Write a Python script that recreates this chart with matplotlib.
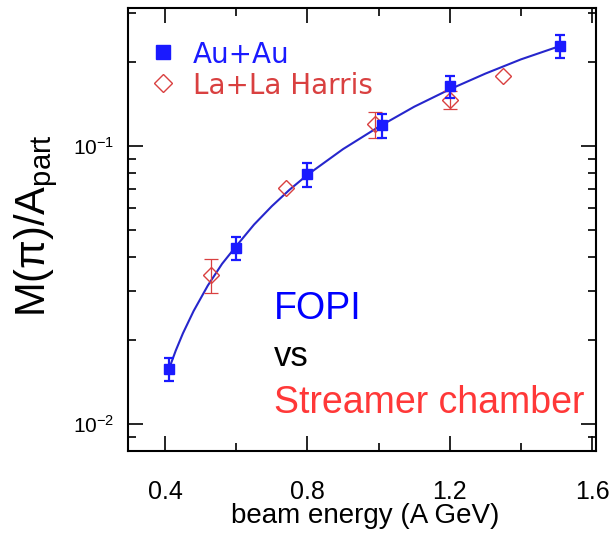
import matplotlib
matplotlib.use("Agg")
import matplotlib.pyplot as plt
from matplotlib.ticker import MultipleLocator, LogLocator, NullFormatter

plt.rcParams['font.family'] = ['Liberation Sans', 'DejaVu Sans']
plt.rcParams['mathtext.fontset'] = 'custom'
plt.rcParams['mathtext.rm'] = 'Liberation Sans'
plt.rcParams['mathtext.it'] = 'Liberation Sans:italic'

# FOPI, Au+Au
au_energy = [0.41, 0.60, 0.80, 1.01, 1.20, 1.51]
au_mult = [0.0158, 0.0430, 0.0791, 0.1187, 0.164, 0.2286]
au_err = [0.0015, 0.0040, 0.0077, 0.0115, 0.0145, 0.0215]

# Streamer chamber, La+La (Harris); 0 = no error bar shown
la_energy = [0.53, 0.74, 0.99, 1.20, 1.35]
la_mult = [0.0345, 0.0708, 0.1197, 0.147, 0.1787]
la_err = [0.0048, 0.0, 0.013, 0.011, 0.0]

# fitted curve through the Au+Au points
fit_energy = [0.411, 0.43, 0.45, 0.48, 0.52, 0.56, 0.60, 0.65, 0.70, 0.75,
              0.80, 0.90, 1.00, 1.10, 1.20, 1.30, 1.40, 1.508]
fit_mult = [0.0158, 0.0184, 0.0212, 0.0255, 0.0315, 0.0377, 0.0437, 0.0522,
            0.0608, 0.0697, 0.0788, 0.0975, 0.1172, 0.1385, 0.1600, 0.1822,
            0.2050, 0.2286]

blue = '#1a1aff'
red = '#d94040'

fig = plt.figure(figsize=(6.15, 5.33), dpi=100)
ax = fig.add_axes([0.2089, 0.1538, 0.7602, 0.8321])

ax.plot(fit_energy, fit_mult, color='#2626cc', lw=1.5, zorder=2)

# La+La: error bars only where there is one
la_x = [x for x, e in zip(la_energy, la_err) if e > 0]
la_y = [y for y, e in zip(la_mult, la_err) if e > 0]
la_e = [e for e in la_err if e > 0]
ax.errorbar(la_x, la_y, yerr=la_e, fmt='none', ecolor=red, elinewidth=0.9,
            capsize=5, capthick=0.9, zorder=3)
ax.plot(la_energy, la_mult, ls='none', marker='D', ms=8, mfc='none',
        mec=red, mew=1.0, zorder=3)

ax.errorbar(au_energy, au_mult, yerr=au_err, fmt='s', color=blue, ms=7.5,
            elinewidth=1.6, capsize=3.5, capthick=1.6, zorder=4)

ax.set_yscale('log')
ax.set_xlim(0.297, 1.611)
ax.set_ylim(0.008, 0.315)

ax.xaxis.set_major_locator(MultipleLocator(0.4))
ax.xaxis.set_minor_locator(MultipleLocator(0.2))
ax.yaxis.set_major_locator(LogLocator(base=10))
ax.yaxis.set_minor_locator(LogLocator(base=10, subs=range(2, 10)))
ax.yaxis.set_minor_formatter(NullFormatter())

ax.tick_params(which='both', direction='in', top=True, right=True, width=1.2)
ax.tick_params(which='major', length=11)
ax.tick_params(which='minor', length=6)
ax.tick_params(axis='x', labelsize=18, pad=21)
ax.tick_params(axis='y', labelsize=15, pad=10)
for s in ax.spines.values():
    s.set_linewidth(1.5)

ax.set_xlabel('beam energy (A GeV)', fontsize=20)
ax.xaxis.set_label_coords(0.506, -0.117)
fig.text(0.0732, 0.576, r'M(π)/A$_{\rm part}$', fontsize=30, rotation=90,
         rotation_mode='anchor', ha='center', va='baseline')

# key in the upper left corner
ax.plot([0.073], [0.900], transform=ax.transAxes, ls='none', marker='s',
        ms=10, color=blue)
ax.text(0.138, 0.900, 'Au+Au', transform=ax.transAxes, fontsize=20,
        family='DejaVu Sans', color=blue, va='center_baseline')
ax.plot([0.073], [0.830], transform=ax.transAxes, ls='none', marker='D',
        ms=9, mfc='none', mec=red, mew=1.0)
ax.text(0.138, 0.830, 'La+La Harris', transform=ax.transAxes, fontsize=20,
        family='DejaVu Sans', color=red, va='center_baseline')

ax.text(0.3106, 0.297, 'FOPI', transform=ax.transAxes, fontsize=27,
        color='#0000ff', va='baseline')
ax.text(0.3106, 0.191, 'vs', transform=ax.transAxes, fontsize=25,
        color='black', va='baseline')
ax.text(0.3106, 0.0852, 'Streamer chamber', transform=ax.transAxes,
        fontsize=27, color='#ff3838', va='baseline')

fig.savefig('out.png', dpi=100)
